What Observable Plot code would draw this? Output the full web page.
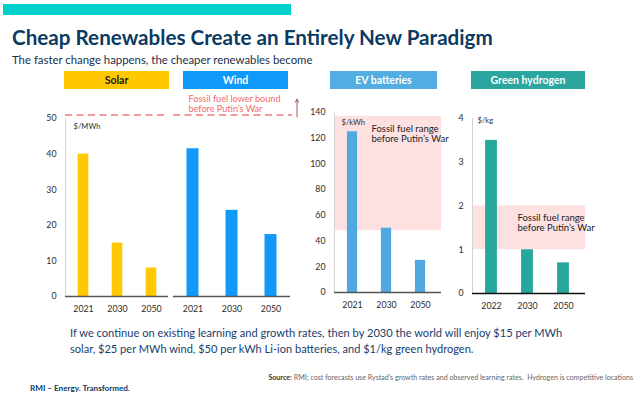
<!DOCTYPE html>
<html><head><meta charset="utf-8">
<script src="https://cdn.jsdelivr.net/npm/d3@7"></script>
<script src="https://cdn.jsdelivr.net/npm/@observablehq/plot@0.6"></script>
<style>
html,body{margin:0;padding:0;background:#fff;}
#root{position:relative;width:640px;height:398px;overflow:hidden;font-family:Lato,"Noto Sans",sans-serif;}
.t{position:absolute;white-space:nowrap;line-height:1;font-family:Lato,"Noto Sans",sans-serif;}
.chart{position:absolute;}
.chart svg{overflow:visible;}
.hdr{position:absolute;height:18px;line-height:18px;text-align:center;font-weight:700;font-size:10.5px;font-family:Lato,"Noto Sans",sans-serif;}
</style></head>
<body><div id="root"></div>
<script>
// ---------- data ----------
const panels = ["Solar", "Wind", "EV batteries", "Green hydrogen"];
const years = ["2021", "2030", "2050"];
const h2Years = ["2022", "2030", "2050"];
const solarCost = [40, 15, 8];          // $/MWh
const windCost = [41.5, 24.2, 17.4];    // $/MWh
const evCost = [125, 50, 25];           // $/kWh
const h2Cost = [3.5, 1.0, 0.7];         // $/kg
const fossilLowerBound = 51;            // $/MWh
const fossilArrow = [50.4, 55.4];       // $/MWh
const evFossilRange = [48, 137];        // $/kWh
const h2FossilRange = [1, 2];           // $/kg
const mwhTicks = [0, 10, 20, 30, 40, 50];
const evTicks = [0, 20, 40, 60, 80, 100, 120, 140];
const h2Ticks = [0, 1, 2, 3, 4];
const units = ["$/MWh", "$/kWh", "$/kg"];
const lowerBoundLabel = "Fossil fuel lower bound\nbefore Putin\u2019s War";
const rangeLabel = "Fossil fuel range\nbefore Putin\u2019s War";

const solarData = years.map((year, i) => ({year, cost: solarCost[i]}));
const windData = years.map((year, i) => ({year, cost: windCost[i]}));
const evData = years.map((year, i) => ({year, cost: evCost[i]}));
const h2Data = h2Years.map((year, i) => ({year, cost: h2Cost[i]}));

const root = document.getElementById("root");
const FONT = "Lato, 'Noto Sans', sans-serif";

// ---------- helpers ----------
function box(left, top, w, h, color) {
  const el = document.createElement("div");
  el.style.cssText = `position:absolute;left:${left}px;top:${top}px;width:${w}px;height:${h}px;background:${color}`;
  root.appendChild(el);
}
function place(html, {left, right, baseline, width, weight = 400, color = "#0b3a62", size = 12}) {
  const el = document.createElement("div");
  el.className = "t";
  el.innerHTML = html;
  el.style.fontWeight = weight;
  el.style.color = color;
  el.style.fontSize = size + "px";
  root.appendChild(el);
  let fs = size;
  if (width) {
    const w = el.getBoundingClientRect().width;
    fs = size * width / w;
    el.style.fontSize = fs + "px";
  }
  el.style.top = (baseline - 0.89 * fs) + "px";
  const w2 = el.getBoundingClientRect().width;
  el.style.left = (right != null ? right - w2 : left) + "px";
}
function mount(plot, left, top) {
  const d = document.createElement("div");
  d.className = "chart";
  d.style.left = left + "px";
  d.style.top = top + "px";
  d.appendChild(plot);
  root.appendChild(d);
}
const labelFs = 9.5;
const unitFs = 7.6;
const baseStyle = {fontSize: "8.8px", fontFamily: FONT, color: "#2b2b2b", background: "transparent", overflow: "visible"};
const fmt = d => String(d);

// ---------- slide chrome ----------
box(3, 4, 288, 11, "#00D1CC");
place("Cheap Renewables Create an Entirely New Paradigm", {left: 12, baseline: 45, width: 481, weight: 700, color: "#0b3a62", size: 21});
place("The faster change happens, the cheaper renewables become", {left: 12, baseline: 64, width: 301, color: "#1b2f4a", size: 12});

const hdrs = [
  {left: 64, width: 105, bg: "#FFC800", fg: "#1a1a1a"},
  {left: 183, width: 105, bg: "#1199F9", fg: "#fff"},
  {left: 330, width: 107, bg: "#52ADE2", fg: "#fff"},
  {left: 471, width: 114, bg: "#2AA69E", fg: "#fff"}
];
panels.forEach((p, i) => {
  const el = document.createElement("div");
  el.className = "hdr";
  el.textContent = p;
  el.style.left = hdrs[i].left + "px";
  el.style.top = "71px";
  el.style.width = hdrs[i].width + "px";
  el.style.background = hdrs[i].bg;
  el.style.color = hdrs[i].fg;
  root.appendChild(el);
});

// ---------- Solar ----------
mount(Plot.plot({
  width: 168, height: 228, marginLeft: 65, marginRight: 0, marginTop: 28, marginBottom: 22,
  style: baseStyle,
  x: {domain: years, padding: 0, tickSize: 0, tickPadding: 9, label: null},
  y: {domain: [0, 50], ticks: mwhTicks, tickFormat: fmt, tickSize: 0, tickPadding: 9, label: null},
  marks: [
    Plot.frame({anchor: "left", stroke: "#d4d4d4"}),
    Plot.barY(solarData, {x: "year", y: "cost", fill: "#FFC800", insetLeft: 11.7, insetRight: 11.7}),
    Plot.ruleY([0], {stroke: "#555", strokeWidth: 1.5}),
    Plot.ruleY([fossilLowerBound], {stroke: "#F47B7B", strokeWidth: 1.6, strokeDasharray: "7,4.5"}),
    Plot.text([units[0]], {frameAnchor: "top-left", dx: 8, dy: 8, textAnchor: "start", lineAnchor: "middle", fontSize: unitFs, fill: "#333"})
  ]
}), 0, 90);

// ---------- Wind ----------
mount(Plot.plot({
  width: 132, height: 228, marginLeft: 0, marginRight: 15, marginTop: 28, marginBottom: 22,
  style: baseStyle,
  x: {domain: years, padding: 0, tickSize: 0, tickPadding: 9, label: null},
  y: {domain: [0, 50], axis: null},
  marks: [
    Plot.barY(windData, {x: "year", y: "cost", fill: "#1199F9", insetLeft: 13.5, insetRight: 13.5}),
    Plot.ruleY([0], {stroke: "#555", strokeWidth: 1.5}),
    Plot.ruleY([fossilLowerBound], {stroke: "#F47B7B", strokeWidth: 1.6, strokeDasharray: "7,4.5", insetRight: -2}),
    Plot.text([lowerBoundLabel], {x: () => years[0], y: () => 54.2, text: d => d, dx: -4.5, textAnchor: "start", lineAnchor: "middle", lineHeight: 1.08, fontSize: 9.1, fill: "#F26A6A"}),
    Plot.arrow([fossilArrow], {x: () => years[2], y1: d => d[0], y2: d => d[1], dx: 26, stroke: "#a45a5a", strokeWidth: 1, headLength: 5})
  ]
}), 173, 90);

// ---------- EV batteries ----------
mount(Plot.plot({
  width: 145, height: 228, marginLeft: 34, marginRight: 4, marginTop: 22, marginBottom: 26,
  style: baseStyle,
  x: {domain: years, padding: 0, insetRight: 4, tickSize: 0, tickPadding: 9, label: null},
  y: {domain: [0, 140], ticks: evTicks, tickFormat: fmt, tickSize: 0, tickPadding: 9, label: null},
  marks: [
    Plot.rectY([evFossilRange], {y1: d => d[0], y2: d => d[1], fill: "#FDE1E1"}),
    Plot.frame({anchor: "left", stroke: "#d4d4d4"}),
    Plot.barY(evData, {x: "year", y: "cost", fill: "#4FA9E0", insetLeft: 11.9, insetRight: 11.9}),
    Plot.ruleY([0], {stroke: "#555", strokeWidth: 1.5}),
    Plot.text([units[1]], {frameAnchor: "top-left", dx: 7, dy: 10, textAnchor: "start", lineAnchor: "middle", fontSize: unitFs, fill: "#333"}),
    Plot.text([rangeLabel], {x: () => years[0], y: () => 123.7, text: d => d, dx: 19, textAnchor: "start", lineAnchor: "middle", lineHeight: 1.08, fontSize: labelFs, fill: "#222"})
  ]
}), 300, 90);

// ---------- Green hydrogen ----------
mount(Plot.plot({
  width: 150, height: 228, marginLeft: 32, marginRight: 5, marginTop: 28, marginBottom: 25,
  style: baseStyle,
  x: {domain: h2Years, padding: 0, insetLeft: 1, insetRight: 3.2, tickSize: 0, tickPadding: 9, label: null},
  y: {domain: [0, 4], ticks: h2Ticks, tickFormat: fmt, tickSize: 0, tickPadding: 9, label: null},
  marks: [
    Plot.rectY([h2FossilRange], {y1: d => d[0], y2: d => d[1], fill: "#FDE1E1"}),
    Plot.frame({anchor: "left", stroke: "#d4d4d4"}),
    Plot.barY(h2Data, {x: "year", y: "cost", fill: "#27A69C", insetLeft: 12.1, insetRight: 12.1}),
    Plot.ruleY([0], {stroke: "#111", strokeWidth: 1.5}),
    Plot.text([units[2]], {frameAnchor: "top-left", dx: 5, dy: 2, textAnchor: "start", lineAnchor: "middle", fontSize: unitFs, fill: "#333"}),
    Plot.text([rangeLabel], {x: () => h2Years[0], y: () => 1.62, text: d => d, dx: 26, textAnchor: "start", lineAnchor: "middle", lineHeight: 1.08, fontSize: labelFs, fill: "#222"})
  ]
}), 440, 90);

// ---------- footer text ----------
place("If we continue on existing learning and growth rates, then by 2030 the world will enjoy $15 per MWh", {left: 70, baseline: 337, width: 493, color: "#17406d", size: 13});
place("solar, $25 per MWh wind, $50 per kWh Li-ion batteries, and $1/kg green hydrogen.", {left: 70, baseline: 353, width: 404, color: "#17406d", size: 13});
place("<b style='color:#333'>Source:</b> RMI; cost forecasts use Rystad\u2019s growth rates and observed learning rates.&nbsp; Hydrogen is competitive locations", {right: 633, baseline: 380.5, width: 365, color: "#666", size: 7});
place("RMI \u2013 Energy. Transformed.", {left: 30, baseline: 391.5, width: 100, weight: 700, color: "#0b3a62", size: 7.5});
</script>
</body></html>
